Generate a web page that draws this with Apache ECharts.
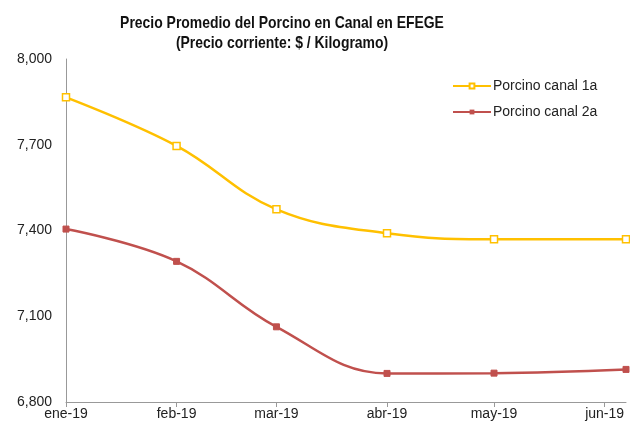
<!DOCTYPE html>
<html>
<head>
<meta charset="utf-8">
<script src="https://cdn.jsdelivr.net/npm/echarts@6/dist/echarts.min.js"></script>
<style>
  html, body { margin: 0; padding: 0; background: #fff; }
  #chart { width: 630px; height: 427px; }
</style>
</head>
<body>
<div id="chart"></div>
<script>
// fechas de cada punto (eje de fechas, como en el original)
const dates = ['2019-01-01', '2019-02-01', '2019-03-01', '2019-04-01', '2019-05-01', '2019-06-07'];
const monthLabels = ['ene-19', 'feb-19', 'mar-19', 'abr-19', 'may-19', 'jun-19'];
const canal1a = [7866, 7696, 7474, 7390, 7369, 7369];
const canal2a = [7405, 7292, 7063, 6900, 6901, 6914];
const titleLines = ['Precio Promedio del Porcino en Canal en EFEGE', '(Precio corriente: $ / Kilogramo)'];

const chart = echarts.init(document.getElementById('chart'));

const axisText = { color: '#222', fontFamily: 'Liberation Sans, Arial, sans-serif', fontSize: 14 };

chart.setOption({
  animation: false,
  // titulo en fuente angosta: texto real, comprimido horizontalmente
  graphic: [{
    type: 'text',
    x: 282,
    y: 13,
    scaleX: 0.82,
    style: {
      text: titleLines.join('\n'),
      textAlign: 'center',
      font: 'bold 17px "Liberation Sans", Arial, sans-serif',
      lineHeight: 20,
      fill: '#111'
    }
  }],
  legend: {
    orient: 'vertical',
    left: 452,
    top: 79,
    padding: 0,
    itemGap: 12,
    itemWidth: 38,
    itemHeight: 6,
    textStyle: {
      fontFamily: 'Liberation Sans, Arial, sans-serif',
      fontSize: 14,
      color: '#222',
      padding: [0, 0, 0, -3]
    },
    data: ['Porcino canal 1a', 'Porcino canal 2a']
  },
  grid: { left: 66, right: 4, top: 59, bottom: 25 },
  xAxis: {
    type: 'time',
    min: dates[0],
    max: dates[dates.length - 1],
    splitNumber: 5,
    axisLine: { lineStyle: { color: '#999' } },
    axisTick: { show: true, length: 5, lineStyle: { color: '#999' } },
    splitLine: { show: false },
    axisLabel: {
      ...axisText,
      margin: 5,
      formatter: val => monthLabels[new Date(val).getMonth()]
    }
  },
  yAxis: {
    type: 'value',
    min: 6800,
    max: 8000,
    interval: 300,
    axisLine: { show: true, lineStyle: { color: '#999' } },
    axisTick: { show: false },
    splitLine: { show: false },
    axisLabel: {
      ...axisText,
      margin: 14,
      formatter: v => v.toLocaleString('en-US')
    }
  },
  series: [
    {
      name: 'Porcino canal 1a',
      type: 'line',
      smooth: 0.4,
      clip: false,
      data: dates.map((d, i) => [d, canal1a[i]]),
      symbol: 'rect',
      symbolSize: 7,
      lineStyle: { color: '#FFC000', width: 2.5 },
      itemStyle: { color: '#fff', borderColor: '#FFC000', borderWidth: 1.5 }
    },
    {
      name: 'Porcino canal 2a',
      type: 'line',
      smooth: 0.4,
      clip: false,
      data: dates.map((d, i) => [d, canal2a[i]]),
      symbol: 'rect',
      symbolSize: 6,
      lineStyle: { color: '#C0504D', width: 2.5 },
      itemStyle: { color: '#C0504D', borderColor: '#C0504D' }
    }
  ]
});
</script>
</body>
</html>
